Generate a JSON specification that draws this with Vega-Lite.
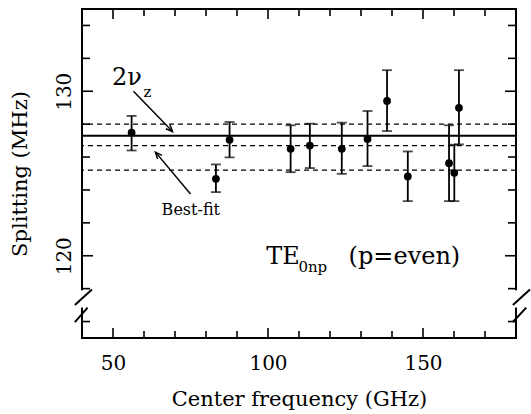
{
  "$schema": "https://vega.github.io/schema/vega-lite/v6.json",
  "width": 434,
  "height": 329,
  "autosize": "none",
  "padding": {"left": 82, "top": 9, "right": 15, "bottom": 76},
  "background": "white",
  "config": {
    "view": {"stroke": "black", "strokeWidth": 2},
    "font": "DejaVu Serif",
    "axis": {"labelFont": "DejaVu Serif", "titleFont": "DejaVu Serif", "labelColor": "black", "titleColor": "black", "titleFontWeight": "normal", "domain": false, "grid": false, "ticks": false}
  },
  "datasets": {
    "pts": [
      {"x": 56, "y": 127.48, "lo": 126.4, "hi": 128.5},
      {"x": 83.2, "y": 124.68, "lo": 123.87, "hi": 125.55},
      {"x": 87.6, "y": 127.05, "lo": 125.98, "hi": 128.13},
      {"x": 107.3, "y": 126.5, "lo": 125.08, "hi": 127.93},
      {"x": 113.5, "y": 126.7, "lo": 125.33, "hi": 128.03},
      {"x": 123.8, "y": 126.5, "lo": 124.98, "hi": 128.09},
      {"x": 132.1, "y": 127.1, "lo": 125.45, "hi": 128.8},
      {"x": 138.4, "y": 129.41, "lo": 127.58, "hi": 131.28},
      {"x": 145.1, "y": 124.82, "lo": 123.32, "hi": 126.34},
      {"x": 158.4, "y": 125.63, "lo": 123.32, "hi": 127.93},
      {"x": 160.1, "y": 125.04, "lo": 123.32, "hi": 126.75},
      {"x": 161.6, "y": 128.99, "lo": 126.77, "hi": 131.28}
    ],
    "xt": [
      {"v": 50, "b": 115, "t": 135}, {"v": 60, "b": 115, "t": 135}, {"v": 70, "b": 115, "t": 135}, {"v": 80, "b": 115, "t": 135},
      {"v": 90, "b": 115, "t": 135}, {"v": 100, "b": 115, "t": 135}, {"v": 110, "b": 115, "t": 135}, {"v": 120, "b": 115, "t": 135},
      {"v": 130, "b": 115, "t": 135}, {"v": 140, "b": 115, "t": 135}, {"v": 150, "b": 115, "t": 135}, {"v": 160, "b": 115, "t": 135},
      {"v": 170, "b": 115, "t": 135}
    ],
    "yt": [
      {"v": 116, "l": 40, "r": 180}, {"v": 118, "l": 40, "r": 180}, {"v": 120, "l": 40, "r": 180}, {"v": 122, "l": 40, "r": 180},
      {"v": 124, "l": 40, "r": 180}, {"v": 126, "l": 40, "r": 180}, {"v": 128, "l": 40, "r": 180}, {"v": 130, "l": 40, "r": 180},
      {"v": 132, "l": 40, "r": 180}, {"v": 134, "l": 40, "r": 180}
    ]
  },
  "layer": [
    {
      "data": {"name": "pts"},
      "mark": {"type": "rule", "strokeWidth": 1.8, "color": "black"},
      "encoding": {
        "x": {"field": "x", "type": "quantitative", "scale": {"domain": [40, 180], "nice": false, "zero": false},
          "axis": {"orient": "bottom", "title": "Center frequency (GHz)", "values": [50, 100, 150],
            "labelFontSize": 20, "titleFontSize": 21, "labelPadding": 15, "titlePadding": 15}},
        "y": {"field": "lo", "type": "quantitative", "scale": {"domain": [115, 135], "nice": false, "zero": false},
          "axis": {"orient": "left", "title": "Splitting (MHz)", "values": [120, 130],
            "labelAngle": -90, "labelAlign": "center", "labelBaseline": "bottom",
            "labelFontSize": 20, "titleFontSize": 21, "labelPadding": 8, "titlePadding": 24}},
        "y2": {"field": "hi"}
      }
    },
    {
      "data": {"values": [{"v": 127.3}]},
      "mark": {"type": "rule", "strokeWidth": 2, "color": "black"},
      "encoding": {"y": {"field": "v", "type": "quantitative", "axis": null}}
    },
    {
      "data": {"values": [{"v": 128.0}, {"v": 126.7}, {"v": 125.2}]},
      "mark": {"type": "rule", "strokeWidth": 1.3, "strokeDash": [5, 4], "color": "black"},
      "encoding": {"y": {"field": "v", "type": "quantitative", "axis": null}}
    },
    {
      "data": {"name": "xt"},
      "mark": {"type": "tick", "orient": "vertical", "thickness": 1.6, "color": "black", "clip": true, "opacity": 1},
      "encoding": {"x": {"field": "v", "type": "quantitative", "axis": null}, "y": {"field": "b", "type": "quantitative", "axis": null},
        "size": {"condition": {"test": "datum.v % 50 === 0", "value": 20}, "value": 14}}
    },
    {
      "data": {"name": "xt"},
      "mark": {"type": "tick", "orient": "vertical", "thickness": 1.6, "color": "black", "clip": true, "opacity": 1},
      "encoding": {"x": {"field": "v", "type": "quantitative", "axis": null}, "y": {"field": "t", "type": "quantitative", "axis": null},
        "size": {"condition": {"test": "datum.v % 50 === 0", "value": 20}, "value": 14}}
    },
    {
      "data": {"name": "yt"},
      "mark": {"type": "tick", "orient": "horizontal", "thickness": 1.6, "color": "black", "clip": true, "opacity": 1},
      "encoding": {"y": {"field": "v", "type": "quantitative", "axis": null}, "x": {"field": "l", "type": "quantitative", "axis": null},
        "size": {"condition": {"test": "datum.v % 10 === 0", "value": 22}, "value": 16}}
    },
    {
      "data": {"name": "yt"},
      "mark": {"type": "tick", "orient": "horizontal", "thickness": 1.6, "color": "black", "clip": true, "opacity": 1},
      "encoding": {"y": {"field": "v", "type": "quantitative", "axis": null}, "x": {"field": "r", "type": "quantitative", "axis": null},
        "size": {"condition": {"test": "datum.v % 10 === 0", "value": 22}, "value": 16}}
    },
    {
      "data": {"name": "pts"},
      "mark": {"type": "tick", "orient": "horizontal", "size": 10, "thickness": 1.8, "color": "black"},
      "encoding": {"x": {"field": "x", "type": "quantitative", "axis": null}, "y": {"field": "lo", "type": "quantitative", "axis": null}}
    },
    {
      "data": {"name": "pts"},
      "mark": {"type": "tick", "orient": "horizontal", "size": 10, "thickness": 1.8, "color": "black"},
      "encoding": {"x": {"field": "x", "type": "quantitative", "axis": null}, "y": {"field": "hi", "type": "quantitative", "axis": null}}
    },
    {
      "data": {"name": "pts"},
      "mark": {"type": "point", "filled": true, "size": 60, "color": "black", "opacity": 1},
      "encoding": {
        "x": {"field": "x", "type": "quantitative", "axis": null},
        "y": {"field": "y", "type": "quantitative", "axis": null}
      }
    },
    {
      "data": {"values": [{"x": 40, "y1": 116.85, "y2": 117.9}, {"x": 180, "y1": 116.85, "y2": 117.9}]},
      "mark": {"type": "rule", "strokeWidth": 5, "color": "white", "clip": false},
      "encoding": {"x": {"field": "x", "type": "quantitative", "axis": null}, "y": {"field": "y1", "type": "quantitative", "axis": null}, "y2": {"field": "y2"}}
    },
    {
      "data": {"values": [
        {"xa": 37.7, "ya": 117.0, "xb": 43.2, "yb": 117.95},
        {"xa": 37.7, "ya": 115.97, "xb": 41.8, "yb": 116.85},
        {"xa": 179.0, "ya": 117.0, "xb": 184.5, "yb": 117.95},
        {"xa": 179.0, "ya": 115.97, "xb": 183.3, "yb": 116.85}
      ]},
      "mark": {"type": "rule", "strokeWidth": 2, "color": "black", "clip": false},
      "encoding": {"x": {"field": "xa", "type": "quantitative", "axis": null}, "y": {"field": "ya", "type": "quantitative", "axis": null}, "x2": {"field": "xb"}, "y2": {"field": "yb"}}
    },
    {
      "data": {"values": [
        {"xa": 56.6, "ya": 130.0, "xb": 69.2, "yb": 127.55},
        {"xa": 75.0, "ya": 123.75, "xb": 63.7, "yb": 126.3}
      ]},
      "mark": {"type": "rule", "strokeWidth": 1.5, "color": "black"},
      "encoding": {"x": {"field": "xa", "type": "quantitative", "axis": null}, "y": {"field": "ya", "type": "quantitative", "axis": null}, "x2": {"field": "xb"}, "y2": {"field": "yb"}}
    },
    {
      "data": {"values": [
        {"x": 69.2, "y": 127.55, "a": 136},
        {"x": 63.7, "y": 126.3, "a": 320}
      ]},
      "mark": {"type": "point", "shape": "M -0.6 1.4 L 0 0 L 0.6 1.4", "filled": false, "stroke": "black", "strokeWidth": 1.5, "size": 90, "opacity": 1},
      "encoding": {"x": {"field": "x", "type": "quantitative", "axis": null}, "y": {"field": "y", "type": "quantitative", "axis": null}, "angle": {"field": "a", "type": "quantitative", "scale": null}}
    },
    {
      "data": {"values": [
        {"x": 49.7, "y": 130.37, "t": "2ν"},
        {"x": 99.4, "y": 119.5, "t": "TE"},
        {"x": 126.0, "y": 119.5, "t": "(p=even)"}
      ]},
      "mark": {"type": "text", "align": "left", "baseline": "alphabetic", "fontSize": 24, "font": "DejaVu Serif", "color": "black"},
      "encoding": {"x": {"field": "x", "type": "quantitative", "axis": null}, "y": {"field": "y", "type": "quantitative", "axis": null}, "text": {"field": "t"}}
    },
    {
      "data": {"values": [
        {"x": 59.8, "y": 129.68, "t": "z"},
        {"x": 109.8, "y": 119.0, "t": "0np"}
      ]},
      "mark": {"type": "text", "align": "left", "baseline": "alphabetic", "fontSize": 15, "font": "DejaVu Serif", "color": "black"},
      "encoding": {"x": {"field": "x", "type": "quantitative", "axis": null}, "y": {"field": "y", "type": "quantitative", "axis": null}, "text": {"field": "t"}}
    },
    {
      "data": {"values": [{"x": 75.1, "y": 122.48, "t": "Best-fit"}]},
      "mark": {"type": "text", "align": "center", "baseline": "alphabetic", "fontSize": 16, "font": "DejaVu Serif", "color": "black"},
      "encoding": {"x": {"field": "x", "type": "quantitative", "axis": null}, "y": {"field": "y", "type": "quantitative", "axis": null}, "text": {"field": "t"}}
    }
  ],
  "resolve": {"axis": {"x": "independent", "y": "independent"}}
}
